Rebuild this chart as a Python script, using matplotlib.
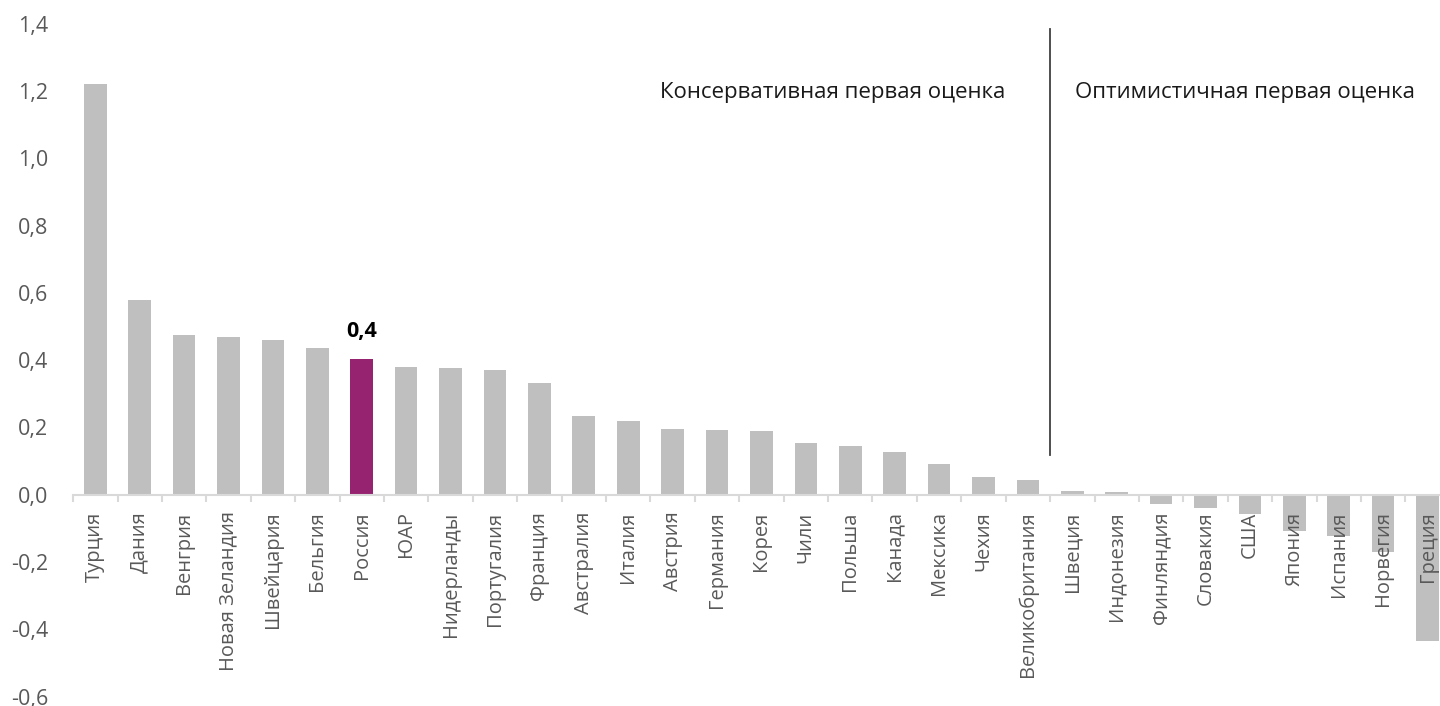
import matplotlib
matplotlib.use("Agg")
import matplotlib.pyplot as plt
import numpy as np

plt.rcParams['font.family'] = ['Open Sans', 'DejaVu Sans']

countries = ["Турция", "Дания", "Венгрия", "Новая Зеландия", "Швейцария", "Бельгия",
             "Россия", "ЮАР", "Нидерланды", "Португалия", "Франция", "Австралия",
             "Италия", "Австрия", "Германия", "Корея", "Чили", "Польша", "Канада",
             "Мексика", "Чехия", "Великобритания", "Швеция", "Индонезия", "Финляндия",
             "Словакия", "США", "Япония", "Испания", "Норвегия", "Греция"]
values = [1.222, 0.579, 0.475, 0.468, 0.461, 0.437, 0.404, 0.381, 0.376, 0.372,
          0.333, 0.234, 0.220, 0.194, 0.193, 0.190, 0.153, 0.146, 0.126, 0.092,
          0.054, 0.045, 0.011, 0.009, -0.028, -0.040, -0.056, -0.109, -0.122,
          -0.169, -0.435]
highlight = "Россия"
highlight_label = "0,4"
yticks = [-0.6, -0.4, -0.2, 0.0, 0.2, 0.4, 0.6, 0.8, 1.0, 1.2, 1.4]
left_caption = "Консервативная первая оценка"
right_caption = "Оптимистичная первая оценка"
divider_after = "Великобритания"

fig = plt.figure(figsize=(14.4, 7.06), dpi=100)
ax = fig.add_axes([73.1 / 1440, 1 - 696.7 / 706, 1 - 73.1 / 1440, (696.7 - 23.6) / 706])

x = np.arange(len(countries))
colors = ["#96236F" if c == highlight else "#BFBFBF" for c in countries]
ax.bar(x, values, width=0.51, color=colors, zorder=1)
ax.set_axisbelow(False)

for s in ["top", "right", "left"]:
    ax.spines[s].set_visible(False)
ax.spines["bottom"].set_position(("data", 0))
ax.spines["bottom"].set_color("#D9D9D9")
ax.spines["bottom"].set_linewidth(1.5)

ax.set_xticks(x)
ax.set_xticklabels(countries, rotation=90, fontsize=14.5, color="#595959", va="top", ha="center")
ax.set_xticks(np.arange(len(countries) + 1) - 0.5, minor=True)
ax.tick_params(axis="x", which="major", length=0, pad=12)
ax.tick_params(axis="x", which="minor", length=5, width=1.5, color="#D9D9D9", direction="out")

ax.set_yticks(yticks)
ax.set_yticklabels([f"{v:.1f}".replace(".", ",") for v in yticks], fontsize=15.5, color="#595959")
ax.tick_params(axis="y", length=0, pad=18)

ax.set_xlim(-0.5, 30.28)
ax.set_ylim(-0.6, 1.4)

hi = countries.index(highlight)
ax.text(hi, values[hi] + 0.08, highlight_label, ha="center", va="center",
        fontsize=15.5, fontweight="bold", color="black")

dv = countries.index(divider_after) + 0.5
ax.plot([dv, dv], [0.119, 1.384], color="#404040", lw=1.3, zorder=3)

ax.text(dv - 1.0, 1.195, left_caption, ha="right", va="center", fontsize=16, color="#1A1A1A")
ax.text(dv + 0.57, 1.195, right_caption, ha="left", va="center", fontsize=16, color="#1A1A1A")

fig.savefig("out.png", dpi=100)
